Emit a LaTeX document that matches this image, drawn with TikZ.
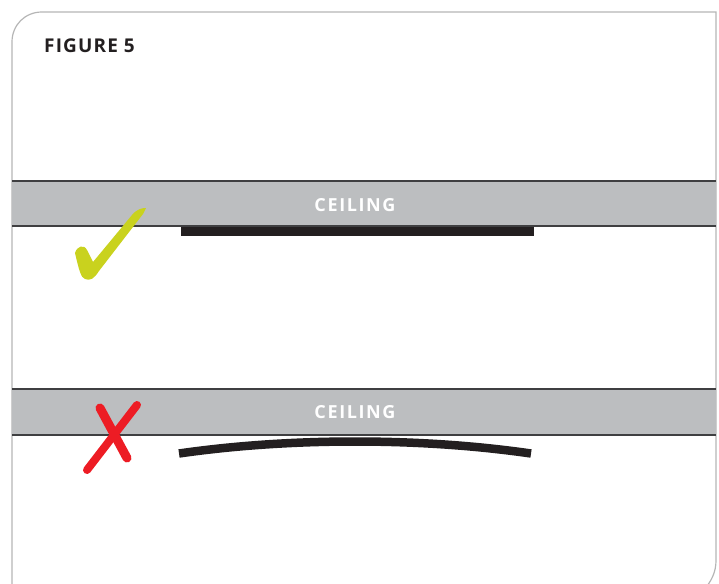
\documentclass[tikz,border=0pt]{standalone}
\usepackage{fontspec}
\setmainfont{Open Sans}
\newfontfamily\capfont[LetterSpace=9]{Open Sans Bold}
\newfontfamily\titfont[LetterSpace=6]{Open Sans Bold}
\definecolor{framegray}{HTML}{B5B5B5}
\definecolor{bandgray}{HTML}{BCBEC0}
\definecolor{bandline}{HTML}{3F3F41}
\definecolor{panel}{HTML}{231F20}
\definecolor{checkgreen}{HTML}{C9D21E}
\definecolor{crossred}{HTML}{ED1C24}
\tikzset{
  band/.style={fill=bandgray, draw=none},
  bandedge/.style={draw=bandline, line width=1.6pt},
  bandlabel/.style={text=white, font=\capfont\fontsize{18}{18}\selectfont, inner sep=0pt, anchor=center},
  panelbar/.style={draw=panel, line width=8.5pt},
  title/.style={text=panel, font=\titfont\fontsize{19}{19}\selectfont, inner sep=0pt, anchor=base west},
}
\begin{document}
\begin{tikzpicture}[x=1pt,y=-1pt]
\useasboundingbox (0,0) rectangle (719,583);
\begin{scope}
\clip (0,0) rectangle (719,583);
% frame
\draw[framegray, line width=1.2pt] (12,600) -- (12,42) .. controls (12,25) and (25,12) .. (42,12) -- (716,12) -- (716,560) .. controls (716,572) and (712,580) .. (704,590);
% bands
\fill[band] (12,181) rectangle (716,226);
\draw[bandedge] (12,181) coordinate (b1tl) -- (716,181) coordinate (b1tr);
\draw[bandedge] (12,226) coordinate (b1bl) -- (716,226) coordinate (b1br);
\fill[band] (12,389) rectangle (716,435);
\draw[bandedge] (12,389) coordinate (b2tl) -- (716,389) coordinate (b2tr);
\draw[bandedge] (12,435) coordinate (b2bl) -- (716,435) coordinate (b2br);
\end{scope}
\node[title] (fig) at (44,53) {FIGURE 5};
\node[bandlabel] (c1) at (355,205) {CEILING};
\node[bandlabel] (c2) at (355,412) {CEILING};
% flat panel
\coordinate (p1a) at (181,231.5);
\coordinate (p1b) at (534,231.5);
\draw[panelbar] (p1a) -- (p1b);
% curved panel
\coordinate (p2a) at (179,453.5);
\coordinate (p2b) at (531,453.5);
\draw[panelbar] (p2a) .. controls (290,437.5) and (420,437.5) .. (p2b);
% check mark
\fill[checkgreen] (75,253) .. controls (77,246) and (84,244) .. (87,250)
  -- (93,262) -- (132,215) .. controls (137,209) and (142,208) .. (146,208)
  -- (143,214) -- (99,271) .. controls (94,279) and (90,281) .. (85,279)
  .. controls (81,278) and (79,270) .. cycle;
% cross
\draw[crossred, line width=9pt, line cap=round] (100,408) -- (127,458);
\draw[crossred, line width=8pt, line cap=round] (137,405) -- (87,470);
\end{tikzpicture}
\end{document}
